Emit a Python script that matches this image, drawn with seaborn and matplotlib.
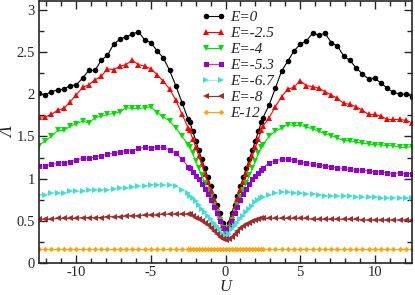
import numpy as np
import matplotlib
matplotlib.use('Agg')
import matplotlib.pyplot as plt
import seaborn as sns
from matplotlib.ticker import MultipleLocator

# U grid: coarse outside |U|>2.5, fine inside
U_left = np.linspace(-12.5, -2.5, 25)
U_mid = np.linspace(-2.4, 2.4, 25)
U_right = np.linspace(2.5, 12.5, 25)
U = np.concatenate([U_left, U_mid, U_right])

lam_E0 = [2.01, 1.99, 2.03, 2.05, 2.06, 2.10, 2.11, 2.19, 2.28, 2.28, 2.40, 2.46, 2.59, 2.65, 2.68, 2.71, 2.74, 2.64, 2.61, 2.51, 2.43, 2.28, 2.10, 1.90, 1.70,
          1.67, 1.56, 1.45, 1.34, 1.23, 1.13, 1.02, 0.91, 0.80, 0.69, 0.59, 0.48, 0.37, 0.48, 0.59, 0.69, 0.80, 0.91, 1.02, 1.13, 1.23, 1.34, 1.45, 1.56, 1.67,
          1.72, 1.87, 2.07, 2.27, 2.39, 2.51, 2.59, 2.63, 2.72, 2.70, 2.72, 2.61, 2.57, 2.45, 2.40, 2.31, 2.24, 2.18, 2.19, 2.13, 2.07, 2.02, 2.00, 2.00, 1.97]
lam_E25 = [1.73, 1.73, 1.76, 1.81, 1.83, 1.91, 1.99, 2.08, 2.11, 2.17, 2.21, 2.30, 2.29, 2.33, 2.35, 2.40, 2.35, 2.33, 2.30, 2.23, 2.15, 2.06, 1.93, 1.76, 1.60,
           1.57, 1.47, 1.37, 1.27, 1.17, 1.06, 0.96, 0.86, 0.76, 0.66, 0.55, 0.45, 0.35, 0.45, 0.55, 0.66, 0.76, 0.86, 0.96, 1.06, 1.17, 1.27, 1.37, 1.47, 1.57,
           1.62, 1.72, 1.85, 1.97, 2.06, 2.08, 2.16, 2.10, 2.09, 2.07, 2.03, 1.99, 1.95, 1.89, 1.88, 1.85, 1.81, 1.76, 1.76, 1.74, 1.70, 1.70, 1.70, 1.69, 1.66]
lam_E4 = [1.39, 1.45, 1.50, 1.57, 1.57, 1.62, 1.65, 1.68, 1.66, 1.72, 1.74, 1.76, 1.77, 1.79, 1.84, 1.83, 1.83, 1.84, 1.85, 1.78, 1.73, 1.68, 1.60, 1.50, 1.40,
          1.38, 1.30, 1.21, 1.12, 1.04, 0.95, 0.86, 0.78, 0.69, 0.60, 0.51, 0.42, 0.34, 0.42, 0.51, 0.60, 0.69, 0.78, 0.86, 0.95, 1.04, 1.12, 1.21, 1.30, 1.38,
          1.40, 1.50, 1.56, 1.60, 1.64, 1.63, 1.63, 1.61, 1.59, 1.56, 1.53, 1.51, 1.48, 1.45, 1.45, 1.43, 1.42, 1.41, 1.40, 1.40, 1.39, 1.39, 1.37, 1.37, 1.38]
lam_E53 = [1.15, 1.15, 1.17, 1.18, 1.19, 1.20, 1.22, 1.24, 1.24, 1.26, 1.27, 1.29, 1.30, 1.32, 1.33, 1.33, 1.36, 1.37, 1.36, 1.38, 1.37, 1.34, 1.30, 1.23, 1.14,
           1.12, 1.08, 1.03, 0.99, 0.94, 0.88, 0.82, 0.75, 0.67, 0.59, 0.50, 0.41, 0.33, 0.41, 0.50, 0.59, 0.67, 0.75, 0.82, 0.88, 0.94, 0.99, 1.03, 1.07, 1.10,
           1.12, 1.19, 1.21, 1.23, 1.23, 1.22, 1.20, 1.18, 1.17, 1.16, 1.15, 1.14, 1.13, 1.12, 1.11, 1.10, 1.10, 1.09, 1.08, 1.08, 1.07, 1.06, 1.07, 1.06, 1.06]
lam_E67 = [0.81, 0.81, 0.83, 0.83, 0.83, 0.85, 0.85, 0.85, 0.86, 0.87, 0.87, 0.87, 0.88, 0.89, 0.89, 0.90, 0.91, 0.91, 0.93, 0.93, 0.93, 0.92, 0.91, 0.87, 0.83,
           0.80, 0.77, 0.73, 0.69, 0.64, 0.60, 0.56, 0.52, 0.48, 0.44, 0.40, 0.35, 0.32, 0.35, 0.40, 0.44, 0.48, 0.52, 0.56, 0.60, 0.64, 0.68, 0.72, 0.75, 0.77,
           0.78, 0.81, 0.83, 0.84, 0.84, 0.83, 0.83, 0.82, 0.82, 0.81, 0.80, 0.80, 0.79, 0.79, 0.79, 0.78, 0.78, 0.78, 0.78, 0.77, 0.77, 0.77, 0.77, 0.77, 0.77]
lam_E8 = [0.52, 0.52, 0.52, 0.53, 0.53, 0.53, 0.53, 0.54, 0.54, 0.54, 0.54, 0.55, 0.55, 0.55, 0.56, 0.56, 0.56, 0.57, 0.57, 0.57, 0.58, 0.58, 0.58, 0.58, 0.58,
          0.58, 0.56, 0.54, 0.52, 0.50, 0.47, 0.45, 0.42, 0.38, 0.35, 0.31, 0.28, 0.27, 0.28, 0.31, 0.35, 0.38, 0.41, 0.44, 0.46, 0.48, 0.50, 0.51, 0.52, 0.53,
          0.53, 0.53, 0.53, 0.53, 0.53, 0.53, 0.53, 0.53, 0.52, 0.52, 0.52, 0.52, 0.52, 0.52, 0.52, 0.52, 0.51, 0.51, 0.51, 0.51, 0.51, 0.51, 0.51, 0.51, 0.51]
lam_E12 = [0.17] * 75

labels = ['E=0', 'E=-2.5', 'E=-4', 'E=-5.3', 'E=-6.7', 'E=-8', 'E-12']
series = [lam_E0, lam_E25, lam_E4, lam_E53, lam_E67, lam_E8, lam_E12]
marker_colors = ['black', '#ff0000', '#00e000', '#9400d3', '#40e0d0', '#a52a2a', '#ffa500']
line_colors = ['black', '#ff0000', '#00e000', '#ff3070', '#a0f0f0', '#a52a2a', '#ffa500']
markers = ['o', '^', 'v', 's', '>', '<', 'D']
msizes = [4, 4, 4, 3.6, 4, 4, 2.8]

sns.set_style('ticks')
plt.rcParams['font.family'] = ['Liberation Serif', 'DejaVu Serif']

fig = plt.figure(figsize=(4.15, 2.95), dpi=100)
ax = fig.add_axes([0.094, 0.108, 0.899, 0.888])

for lab, vals, mc, lc, m, ms in zip(labels, series, marker_colors, line_colors, markers, msizes):
    sns.lineplot(x=U, y=vals, ax=ax, color=lc, marker=m, markersize=ms,
                 markerfacecolor=mc, markeredgecolor=mc, markeredgewidth=0,
                 linewidth=0.8, label=lab)

ax.set_xlim(-12.5, 12.5)
ax.set_ylim(0, 3.1)
ax.xaxis.set_minor_locator(MultipleLocator(1))
ax.yaxis.set_minor_locator(MultipleLocator(0.25))
ax.set_yticks([0, 0.5, 1, 1.5, 2, 2.5, 3])
ax.set_yticklabels(['0', '0.5', '1', '1.5', '2', '2.5', '3'])
ax.set_xticks([-10, -5, 0, 5, 10])
ax.set_xticklabels(['-10', '-5', '0', '5', '10'])
ax.tick_params(which='both', direction='in', top=True, right=True, labelsize=10.5, width=1)
ax.tick_params(which='major', length=6, pad=3)
ax.tick_params(axis='x', which='major', pad=2)
ax.tick_params(which='minor', length=3.5)
for s in ax.spines.values():
    s.set_linewidth(1.2)

ax.set_xlabel('U', fontsize=12, fontstyle='italic', labelpad=0)
ax.set_ylabel('Λ', fontsize=13, fontstyle='italic', labelpad=-1)

leg = ax.legend(loc='upper left', bbox_to_anchor=(0.41, 1.0), frameon=False,
                numpoints=2, handlelength=1.6, handletextpad=0.3, labelspacing=0.15,
                borderaxespad=0.2, prop={'family': 'Liberation Serif', 'style': 'italic', 'size': 11})

fig.savefig('out.png', dpi=100)
